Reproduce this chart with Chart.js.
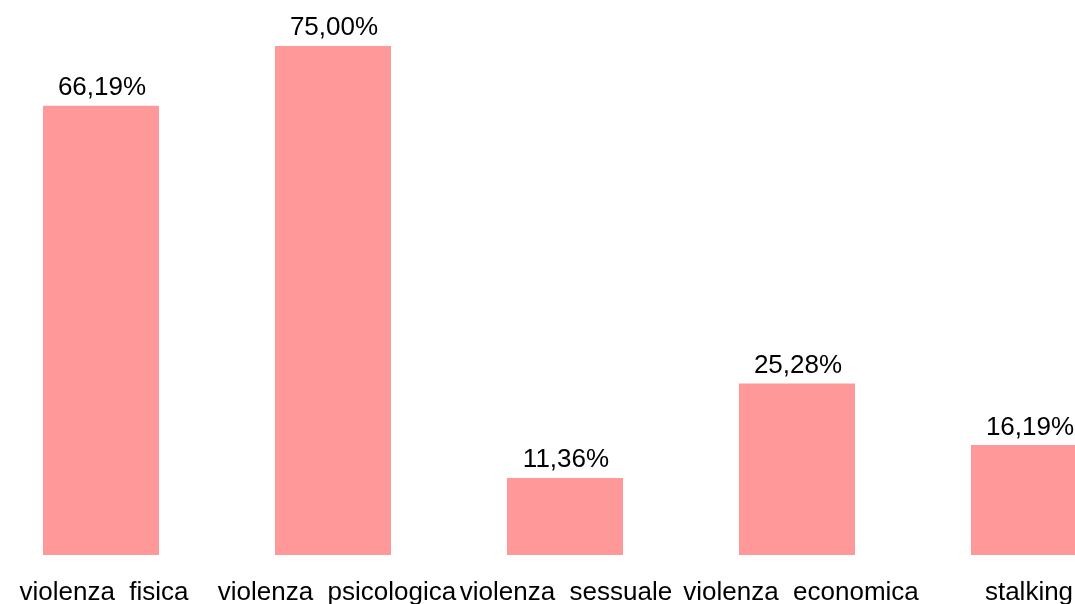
<!DOCTYPE html>
<html>
<head>
<meta charset="utf-8">
<script src="https://cdn.jsdelivr.net/npm/chart.js@4.4.0/dist/chart.umd.min.js"></script>
<style>
    html, body { margin: 0; padding: 0; background: #fff; overflow: hidden; width: 1075px; height: 604px; }
    #wrap { position: absolute; left: -15px; top: 0; width: 1160px; height: 604px; }
</style>
</head>
<body>
<div id="wrap"><canvas id="grafico"></canvas></div>
<script>
// dati
var categorie = ["violenza  fisica", "violenza  psicologica", "violenza  sessuale", "violenza  economica", "stalking"];
var valori = [66.19, 75.00, 11.36, 25.28, 16.19];

// piccolo spostamento orizzontale delle etichette in basso
var spostamentoEtichette = [3, 4, 1, 4, 0];

function formatoPercento(v) {
    return v.toFixed(2).replace('.', ',') + '%';
}

var etichettePlugin = {
    id: 'etichette',
    afterDatasetsDraw: function(chart) {
        var ctx = chart.ctx;
        var meta = chart.getDatasetMeta(0);
        var xScale = chart.scales.x;
        ctx.save();
        ctx.fillStyle = '#000000';
        ctx.textAlign = 'center';
        ctx.textBaseline = 'alphabetic';
        ctx.font = '26px "Liberation Sans", Arial, sans-serif';
        // valori sopra le barre
        meta.data.forEach(function(bar, i) {
            ctx.fillText(formatoPercento(valori[i]), bar.x + 1, bar.y - 10.5);
        });
        // categorie in basso
        categorie.forEach(function(c, i) {
            ctx.fillText(c, xScale.getPixelForValue(i) + spostamentoEtichette[i], 600);
        });
        ctx.restore();
    }
};

var ctx = document.getElementById('grafico').getContext('2d');
var grafico = new Chart(ctx, {
    type: 'bar',
    data: {
        labels: categorie,
        datasets: [{
            data: valori,
            backgroundColor: '#ff9999',
            borderWidth: 0,
            barPercentage: 0.5,
            categoryPercentage: 1.0
        }]
    },
    options: {
        responsive: true,
        maintainAspectRatio: false,
        animation: false,
        layout: { padding: { top: 12, bottom: 49, left: 0, right: 0 } },
        plugins: {
            legend: { display: false },
            tooltip: { enabled: false }
        },
        scales: {
            x: { display: false },
            y: { display: false, min: 0, max: 80 }
        }
    },
    plugins: [etichettePlugin]
});
</script>
</body>
</html>
